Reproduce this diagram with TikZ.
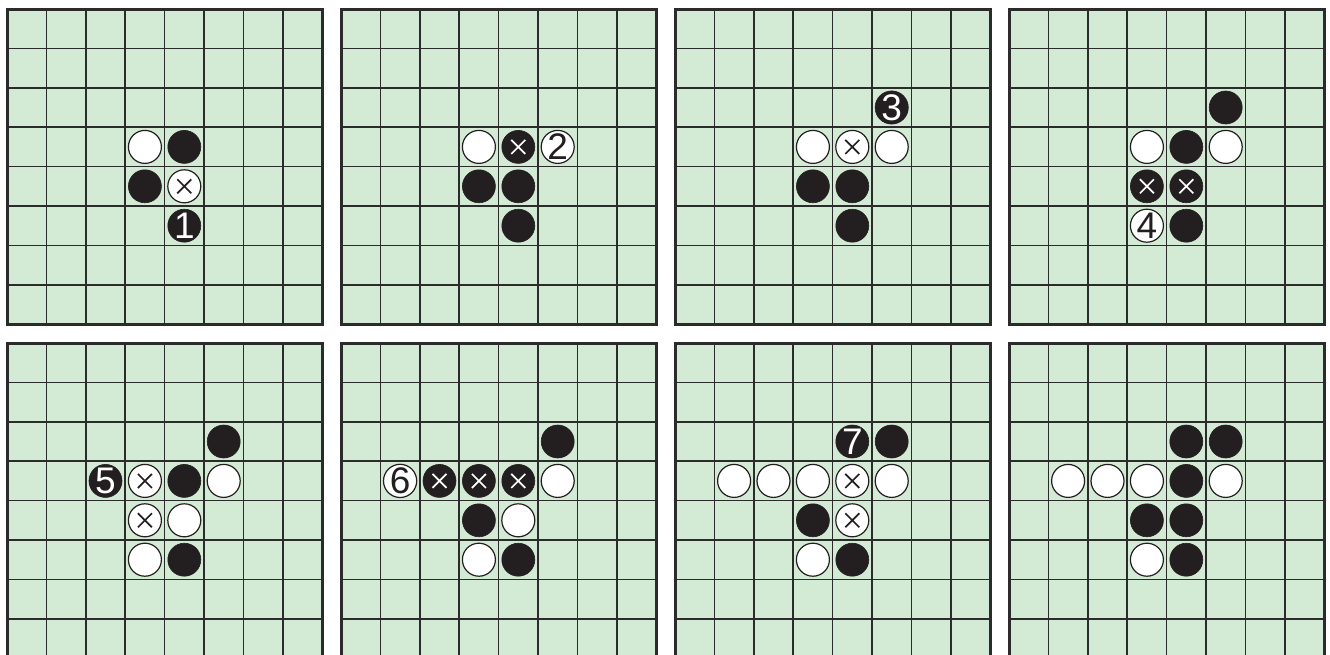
\documentclass[tikz,border=0pt]{standalone}
\usepackage{fontspec}
\setmainfont{Liberation Sans}
\usepackage{xcolor}
\usepackage{tikz}
\definecolor{boardgreen}{HTML}{D3EAD5}
\definecolor{stoneblack}{HTML}{231F20}
\definecolor{gridgray}{HTML}{2B2B2B}
\tikzset{
  stone/.style={circle, minimum size=33pt, inner sep=0pt,
    font=\fontsize{37}{37}\selectfont},
  wst/.style={stone, fill=white, draw=stoneblack, line width=1.2pt, text=stoneblack},
  bst/.style={stone, fill=stoneblack, draw=stoneblack, line width=0.6pt, text=white},
  xmark/.style={path picture={\draw[#1, line width=1.7pt]
      (path picture bounding box.center) ++(-7pt,-7pt) -- ++(14pt,14pt)
      (path picture bounding box.center) ++(-7pt,7pt) -- ++(14pt,-14pt);}},
  wx/.style={wst, xmark=stoneblack},
  bx/.style={bst, xmark=white},
  wnum/.style={wst},
  bnum/.style={bst},
}
% one 8x8 board at pixel position (#1,#2), named #3, stones col/row/style/label in #4
\newcommand{\board}[4]{%
  \begin{scope}[shift={(#1pt,-#2pt)}]
    \fill[boardgreen] (0,0) rectangle (8,8);
    \foreach \k in {1,...,7}{
      \draw[gridgray, line width=1.7pt] (\k,0) -- (\k,8);
      \draw[gridgray, line width=1.7pt] (0,\k) -- (8,\k);}
    \draw[gridgray, line width=3pt] (0,0) rectangle (8,8);
    \foreach \c/\r/\s/\t in {#4}{
      \node[\s] (#3-\c-\r) at (\c+0.5,\r+0.5) {\t};}
  \end{scope}}

\begin{document}
\begin{tikzpicture}[x=39.4pt, y=-39.4pt]
  \clip (0,0) rectangle (1330pt,-654pt);
  \board{7}{9}{A}{3/3/wst/{}, 4/3/bst/{}, 3/4/bst/{}, 4/4/wx/{}, 4/5/bnum/1}
  \board{341}{9}{B}{3/3/wst/{}, 4/3/bx/{}, 5/3/wnum/2, 3/4/bst/{}, 4/4/bst/{}, 4/5/bst/{}}
  \board{675}{9}{C}{5/2/bnum/3, 3/3/wst/{}, 4/3/wx/{}, 5/3/wst/{}, 3/4/bst/{}, 4/4/bst/{},
    4/5/bst/{}}
  \board{1009}{9}{D}{5/2/bst/{}, 3/3/wst/{}, 4/3/bst/{}, 5/3/wst/{}, 3/4/bx/{}, 4/4/bx/{},
    3/5/wnum/4, 4/5/bst/{}}
  \board{7}{343}{E}{5/2/bst/{}, 2/3/bnum/5, 3/3/wx/{}, 4/3/bst/{}, 5/3/wst/{}, 3/4/wx/{},
    4/4/wst/{}, 3/5/wst/{}, 4/5/bst/{}}
  \board{341}{343}{F}{5/2/bst/{}, 1/3/wnum/6, 2/3/bx/{}, 3/3/bx/{}, 4/3/bx/{}, 5/3/wst/{},
    3/4/bst/{}, 4/4/wst/{}, 3/5/wst/{}, 4/5/bst/{}}
  \board{675}{343}{G}{4/2/bnum/7, 5/2/bst/{}, 1/3/wst/{}, 2/3/wst/{}, 3/3/wst/{}, 4/3/wx/{},
    5/3/wst/{}, 3/4/bst/{}, 4/4/wx/{}, 3/5/wst/{}, 4/5/bst/{}}
  \board{1009}{343}{H}{4/2/bst/{}, 5/2/bst/{}, 1/3/wst/{}, 2/3/wst/{}, 3/3/wst/{}, 4/3/bst/{},
    5/3/wst/{}, 3/4/bst/{}, 4/4/bst/{}, 3/5/wst/{}, 4/5/bst/{}}
\end{tikzpicture}
\end{document}
